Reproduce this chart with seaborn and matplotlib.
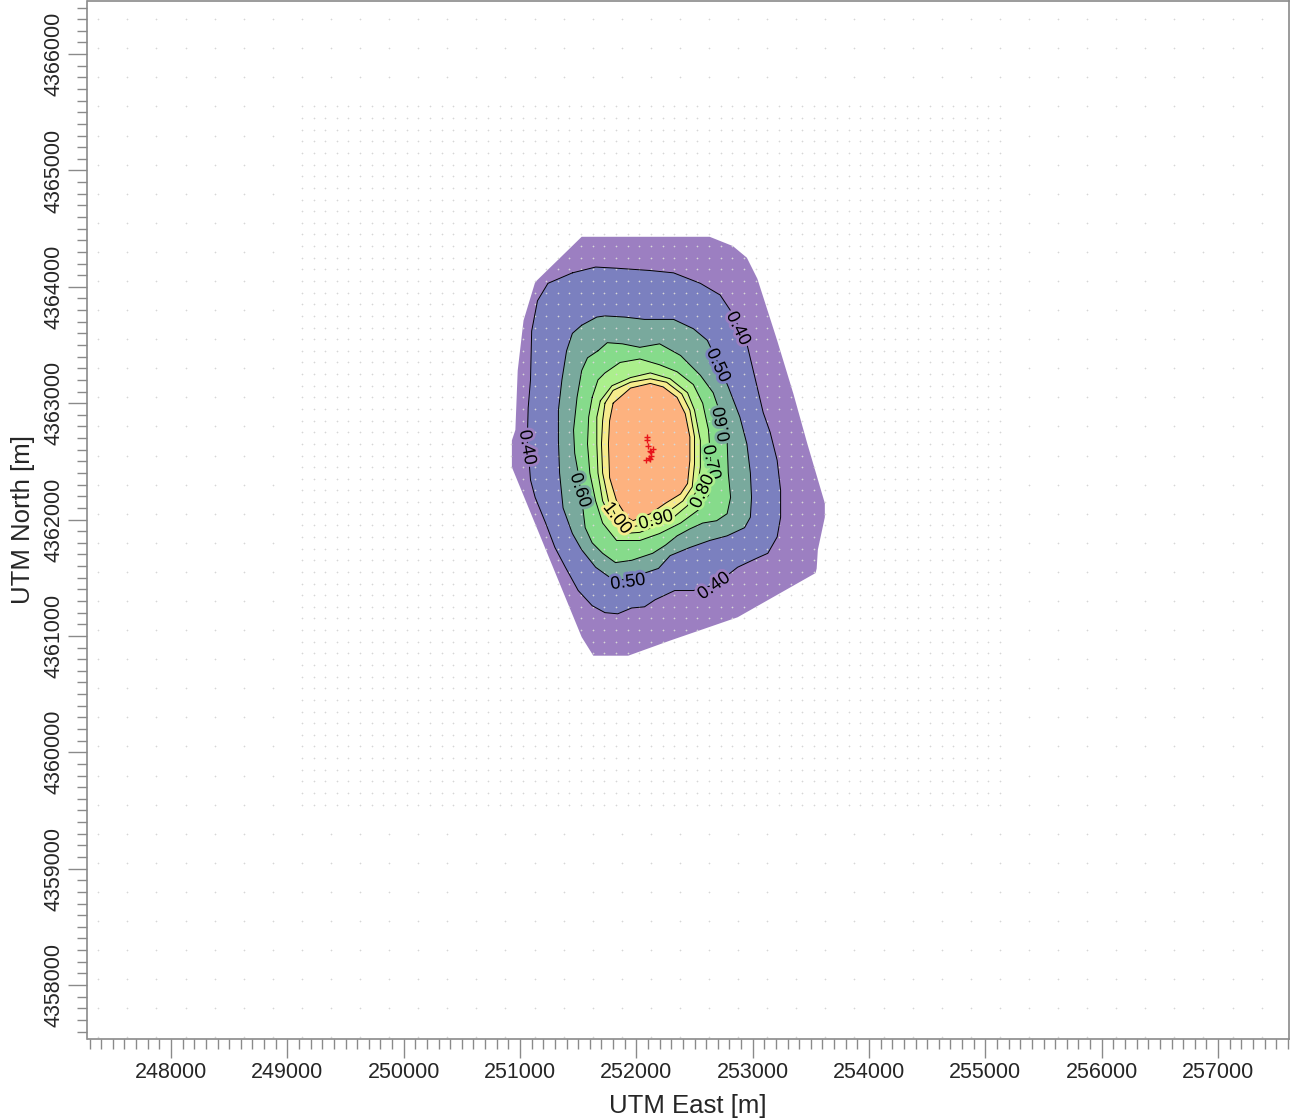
import numpy as np
import pandas as pd
import matplotlib
matplotlib.use("Agg")
import matplotlib.pyplot as plt
import matplotlib.patheffects as pe
from matplotlib.ticker import MultipleLocator
import seaborn as sns

# ---------------- data ----------------
x_ticks = [248000, 249000, 250000, 251000, 252000, 253000, 254000, 255000, 256000, 257000]
y_ticks = [4358000, 4359000, 4360000, 4361000, 4362000, 4363000, 4364000, 4365000, 4366000]

# receptor grids (origin, spacing, count)
dense_x0, dense_y0, dense_step, dense_n = 249125, 4359550, 100, 61
coarse_x0, coarse_y0, coarse_step, coarse_nx, coarse_ny = 247375, 4357550, 250, 41, 36

# isopleth outlines (UTM m)
levels = [0.30, 0.40, 0.50, 0.60, 0.70, 0.80, 0.90, 1.00]
fill_colors = ["#9c7fc1", "#7b80bf", "#79a99d", "#86db8b", "#abef8c", "#d5f58d", "#f6eb8c", "#fdb27f"]

x30 = [251530, 252630, 252830, 252950, 253040, 253210, 253350, 253470, 253620, 253620, 253560, 253550,
       253540, 252870, 252290, 251930, 251630, 251530, 250930, 250930, 250960, 250980, 251030, 251130]
y30 = [4364430, 4364430, 4364350, 4364250, 4364070, 4363540, 4363080, 4362650, 4362140, 4362020, 4361740, 4361580,
       4361540, 4361160, 4360960, 4360830, 4360830, 4360990, 4362450, 4362680, 4362770, 4363280, 4363710, 4364040]

x40 = [251450, 251650, 251830, 252120, 252320, 252550, 252720, 252820, 252950, 253000, 253050, 253090, 253150, 253210,
       253240, 253240, 253210, 253130, 253040, 252870, 252680, 252490, 252330, 252160, 252070, 251960, 251840, 251730,
       251620, 251500, 251390, 251300, 251220, 251130, 251090, 251080, 251060, 251070, 251090, 251100, 251150, 251240]
y40 = [4364120, 4364170, 4364160, 4364140, 4364120, 4364030, 4363930, 4363780, 4363510, 4363300, 4363090, 4362920,
       4362750, 4362510, 4362250, 4362020, 4361850, 4361710, 4361670, 4361590, 4361440, 4361390, 4361390, 4361310,
       4361250, 4361240, 4361190, 4361200, 4361260, 4361390, 4361590, 4361760, 4361970, 4362190, 4362340, 4362470,
       4362590, 4362960, 4363200, 4363620, 4363880, 4364030]

x50 = [251530, 251660, 251730, 251900, 252070, 252320, 252490, 252610, 252700, 252790, 252890, 252950, 252980, 252990,
       252980, 252930, 252780, 252630, 252460, 252290, 252190, 252070, 251930, 251790, 251650, 251530, 251450, 251370,
       251340, 251330, 251330, 251360, 251400, 251450]
y50 = [4363670, 4363740, 4363750, 4363740, 4363720, 4363720, 4363640, 4363540, 4363350, 4363140, 4362880, 4362650,
       4362400, 4362190, 4362020, 4361930, 4361860, 4361820, 4361760, 4361690, 4361580, 4361540, 4361480, 4361490,
       4361590, 4361740, 4361880, 4362100, 4362400, 4362680, 4362940, 4363200, 4363450, 4363600]

x60 = [251670, 251750, 251880, 252030, 252200, 252380, 252550, 252660, 252750, 252780, 252790, 252810, 252780, 252690,
       252570, 252460, 252350, 252250, 252140, 251960, 251820, 251710, 251620, 251560, 251540, 251520, 251500, 251470,
       251460, 251490, 251530, 251580]
y60 = [4363450, 4363520, 4363510, 4363480, 4363510, 4363410, 4363240, 4363090, 4362830, 4362680, 4362400, 4362190,
       4362050, 4361990, 4361970, 4361920, 4361860, 4361780, 4361710, 4361650, 4361630, 4361710, 4361800, 4361930,
       4362100, 4362250, 4362400, 4362570, 4362770, 4363050, 4363280, 4363390]

x70 = [251620, 251670, 251730, 251860, 252030, 252200, 252350, 252490, 252570, 252620, 252640, 252650, 252620, 252530,
       252380, 252200, 252030, 251830, 251710, 251650, 251600, 251580, 251590]
y70 = [4363050, 4363200, 4363260, 4363350, 4363380, 4363330, 4363270, 4363160, 4363000, 4362770, 4362490, 4362340,
       4362210, 4362080, 4361970, 4361880, 4361820, 4361820, 4361970, 4362160, 4362400, 4362650, 4362880]

x80 = [251690, 251790, 251950, 252120, 252290, 252440, 252500, 252550, 252550, 252520, 252440, 252320, 252180, 252030,
       251890, 251790, 251710, 251670, 251660, 251660]
y80 = [4363020, 4363150, 4363220, 4363260, 4363210, 4363090, 4362940, 4362680, 4362450, 4362250, 4362120, 4362020,
       4361950, 4361890, 4361880, 4361990, 4362160, 4362400, 4362650, 4362880]

x90 = [251730, 251800, 251950, 252120, 252260, 252390, 252460, 252500, 252500, 252480, 252400, 252290, 252180, 252030,
       251920, 251830, 251760, 251710, 251700, 251710]
y90 = [4363000, 4363110, 4363180, 4363210, 4363180, 4363080, 4362940, 4362710, 4362480, 4362280, 4362160, 4362080,
       4362010, 4361950, 4361930, 4362020, 4362160, 4362400, 4362650, 4362850]

x100 = [251800, 251950, 252120, 252230, 252350, 252420, 252460, 252460, 252440, 252380, 252250, 252120, 251970, 251920,
        251830, 251770, 251760, 251770]
y100 = [4363000, 4363130, 4363170, 4363140, 4363050, 4362910, 4362710, 4362510, 4362310, 4362220, 4362140, 4362050,
        4361990, 4362020, 4362160, 4362360, 4362650, 4362850]

# sources
src_x = [252090, 252100, 252120, 252130, 252130, 252110, 252080, 252140, 252090, 252120]
src_y = [4362680, 4362630, 4362590, 4362580, 4362550, 4362530, 4362510, 4362610, 4362710, 4362520]

# contour labels: text, x, y, rotation, level index
lab_text = ["0.40", "0.50", "0.60", "0.70", "0.80", "0.90", "1.00", "0.60", "0.40", "0.50", "0.40"]
lab_x = [252874, 252702, 252745, 252642, 252570, 252169, 251834, 251516, 251060, 251928, 252668]
lab_y = [4363641, 4363323, 4362820, 4362491, 4362240, 4361993, 4362010, 4362250, 4362619, 4361460, 4361426]
lab_rot = [-64, -65, 100, -78, 65, 15, -52, -72, -80, 8, 35]
lab_level = [1, 2, 3, 4, 5, 6, 7, 3, 1, 2, 1]

# ---------------- figure ----------------
sns.set_style("white")
plt.rcParams["font.family"] = ["Liberation Sans", "DejaVu Sans"]

W, H = 1291, 1120
fig = plt.figure(figsize=(W / 100, H / 100), dpi=100)
ax = fig.add_axes([87.5 / W, 1 - 1039 / H, (1289 - 87.5) / W, (1039 - 0.8) / H])

outlines = [(x30, y30), (x40, y40), (x50, y50), (x60, y60), (x70, y70), (x80, y80), (x90, y90), (x100, y100)]
for (xs, ys), col in zip(outlines, fill_colors):
    ax.fill(xs, ys, color=col, lw=0, zorder=1)

# receptors
dx = dense_x0 + dense_step * np.arange(dense_n)
dy = dense_y0 + dense_step * np.arange(dense_n)
DX, DY = np.meshgrid(dx, dy)
cx = coarse_x0 + coarse_step * np.arange(coarse_nx)
cy = coarse_y0 + coarse_step * np.arange(coarse_ny)
CX, CY = np.meshgrid(cx, cy)
inside = (CX >= dx[0] - 1) & (CX <= dx[-1] + 1) & (CY >= dy[0] - 1) & (CY <= dy[-1] + 1)
rec = pd.DataFrame({
    "x": np.concatenate([DX.ravel(), CX[~inside]]),
    "y": np.concatenate([DY.ravel(), CY[~inside]]),
})
sns.scatterplot(data=rec, x="x", y="y", marker="+", s=4, color="#d6d6d6", linewidth=0.45,
                ax=ax, zorder=2, legend=False)

# contour lines (skip outer 0.30 boundary)
for xs, ys in outlines[1:]:
    ax.plot(list(xs) + [xs[0]], list(ys) + [ys[0]], color="black", lw=0.7, zorder=3)

# sources
src = pd.DataFrame({"x": src_x, "y": src_y})
sns.scatterplot(data=src, x="x", y="y", marker="+", s=22, color="#e8141a", linewidth=1.0,
                ax=ax, zorder=4, legend=False)

for t, x, y, r, lv in zip(lab_text, lab_x, lab_y, lab_rot, lab_level):
    bg = fill_colors[lv - 1]
    ax.text(x, y, t, rotation=r, ha="center", va="center", fontsize=13, color="black",
            rotation_mode="anchor", zorder=5,
            path_effects=[pe.withStroke(linewidth=4, foreground=bg)])

ax.set_xlim(247282, 257610)
ax.set_ylim(4357536, 4366458)

ax.set_xticks(x_ticks)
ax.set_xticklabels([str(v) for v in x_ticks])
ax.set_yticks(y_ticks)
ax.set_yticklabels([str(v) for v in y_ticks], rotation=90, va="center")
ax.xaxis.set_minor_locator(MultipleLocator(100))
ax.yaxis.set_minor_locator(MultipleLocator(100))
ax.tick_params(which="major", direction="out", length=13.5, width=1.0, color="#8a8a8a",
               labelsize=15.5, pad=3, bottom=True, left=True)
ax.tick_params(which="minor", direction="out", length=7.5, width=1.0, color="#8a8a8a",
               bottom=True, left=True)
for s in ax.spines.values():
    s.set_color("#8a8a8a")
    s.set_linewidth(1.2)

ax.set_xlabel("UTM East [m]", fontsize=18.5, labelpad=8)
ax.set_ylabel("UTM North [m]", fontsize=18.5, labelpad=6)
ax.grid(False)

fig.savefig("out.png", dpi=100)
